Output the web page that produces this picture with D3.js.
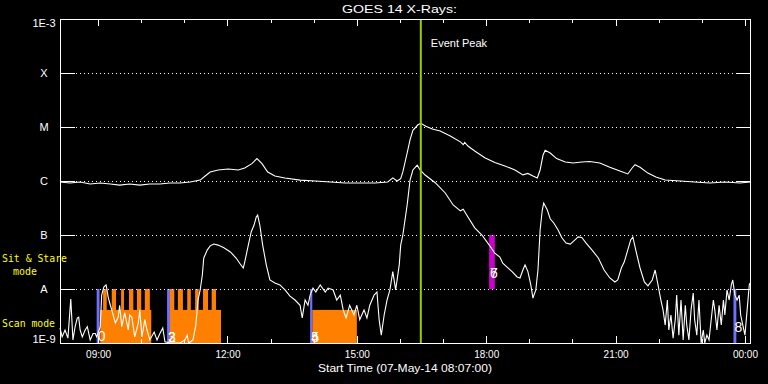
<!DOCTYPE html>
<html>
<head>
<meta charset="utf-8">
<title>GOES 14 X-Rays</title>
<style>
  body { margin: 0; background: #000; }
  svg { display: block; background: #000; }
  text { font-family: "Liberation Sans", Arial, sans-serif; fill: #fff; }
</style>
</head>
<body>
<script src="https://cdn.jsdelivr.net/npm/d3@7"></script>
<script>
// start of the plot; all times below are minutes after it
var startTime = "2014-05-07T08:07:00Z";
var spanMinutes = 960;

// long channel (1-8 A), W/m^2
var longMinutes = [0,14,28,42,56,70,83,97,111,125,139,153,167,181,195,202,209,220,234,248,
  257,267,274,281,289,299,313,334,355,376,397,417,438,456,463,469,474,477,483,487,
  491,498,502,509,518,529,543,557,561,563,568,577,591,605,619,633,644,651,658,664,
  668,672,675,682,691,703,714,726,737,751,765,779,790,796,800,807,818,829,842,863,
  883,904,925,946,960];
var longFlux = [0.96e-6,0.92e-6,0.96e-6,0.88e-6,0.92e-6,0.88e-6,0.84e-6,0.88e-6,0.84e-6,0.88e-6,
  0.88e-6,0.92e-6,0.92e-6,0.96e-6,1.04e-6,1.24e-6,1.47e-6,1.6e-6,1.67e-6,1.6e-6,
  1.74e-6,2.1e-6,2.6e-6,2.1e-6,1.47e-6,1.24e-6,1.14e-6,1.04e-6,1.0e-6,0.96e-6,
  0.92e-6,0.92e-6,0.92e-6,0.96e-6,1.14e-6,1.0e-6,1.1e-6,1.47e-6,3.3e-6,5.8e-6,
  8.7e-6,1.1e-5,1.17e-5,1.03e-5,0.92e-5,0.84e-5,0.68e-5,0.53e-5,0.47e-5,0.52e-5,
  0.44e-5,0.36e-5,0.27e-5,0.22e-5,0.19e-5,0.16e-5,1.3e-6,1.38e-6,1.24e-6,1.14e-6,
  1.6e-6,3.0e-6,3.7e-6,3.3e-6,2.6e-6,2.25e-6,2.15e-6,2.25e-6,2.3e-6,2.15e-6,
  1.8e-6,1.53e-6,1.35e-6,1.74e-6,2.0e-6,1.8e-6,1.4e-6,1.19e-6,1.04e-6,1.0e-6,
  0.96e-6,0.92e-6,0.96e-6,0.92e-6,0.96e-6];

// short channel (0.5-4 A), W/m^2
var shortMinutes = [0,3,7,11,15,18,21,24,26,28,31,35,38,42,46,49,51,56,58,61,
  64,65,67,70,72,77,81,83,86,90,95,97,100,104,109,111,114,118,121,125,
  131,135,139,143,146,153,167,174,177,179,185,189,192,195,198,200,205,209,214,220,
  228,237,245,250,255,257,262,266,270,273,275,278,282,287,292,299,306,313,320,327,
  334,337,341,345,348,352,356,362,369,373,380,385,390,394,398,403,409,413,417,423,
  427,431,437,441,444,447,451,455,459,463,467,472,474,477,480,483,487,491,497,501,
  508,522,536,547,557,561,565,577,587,598,605,612,616,622,629,636,640,644,647,651,
  655,658,662,665,668,671,673,678,682,687,693,698,704,710,715,721,726,732,740,749,
  757,765,772,776,781,785,790,794,797,801,807,813,818,824,828,832,836,839,842,845,
  847,850,853,856,858,861,864,867,870,872,875,878,881,883,886,889,892,895,897,900,
  903,906,909,911,914,917,920,923,925,928,931,934,936,939,942,945,947,950,953,956,
  959,960];
var shortFlux = [1.9e-9,1.3e-9,1.74e-9,1.23e-9,6.5e-9,1.14e-9,2.0e-9,2.9e-9,3.0e-9,1.74e-9,
  1.3e-9,1.74e-9,2.0e-9,1.14e-9,1.5e-9,1.5e-9,1.3e-9,2.0e-9,7.7e-9,1.09e-8,
  1.19e-8,1.04e-8,7.1e-9,5.0e-9,4.1e-9,2.35e-9,3.0e-9,5.0e-9,2.0e-9,3.6e-9,
  1.74e-9,3.3e-9,3.0e-9,1.3e-9,2.35e-9,4.1e-9,1.3e-9,2.7e-9,1.74e-9,1.14e-9,
  1.6e-9,1.14e-9,1.5e-9,1.9e-9,1.05e-9,0.9e-9,0.88e-9,1.14e-9,1.4e-9,0.9e-9,
  1.14e-9,2.15e-9,6.25e-9,9.6e-9,1.8e-8,3.75e-8,5.3e-8,6.3e-8,6.8e-8,6.5e-8,
  5.8e-8,4.85e-8,3.75e-8,3.0e-8,2.45e-8,3.15e-8,6.5e-8,1.14e-7,1.53e-7,2.15e-7,
  2.34e-7,1.53e-7,6.5e-8,2.8e-8,1.47e-8,1.29e-8,1.19e-8,9.6e-9,7.4e-9,6.25e-9,
  5.0e-9,2.9e-9,6.25e-9,5.0e-9,7.7e-9,1.04e-8,8.8e-9,1.19e-8,8.8e-9,1.04e-8,
  9.6e-9,6.25e-9,7.7e-9,4.1e-9,2.9e-9,5.0e-9,3.3e-9,5.0e-9,2.7e-9,4.1e-9,
  2.9e-9,5.0e-9,7.7e-9,8.8e-9,2.7e-9,1.4e-9,3.3e-9,6.25e-9,9.6e-9,2.1e-8,
  9.6e-9,2.8e-8,6.5e-8,1.0e-7,1.9e-7,3.6e-7,1.04e-6,1.6e-6,1.97e-6,1.6e-6,
  1.29e-6,0.93e-6,0.6e-6,3.6e-7,2.8e-7,3.0e-7,2.45e-7,1.36e-7,1.0e-7,6.3e-8,
  4.6e-8,3.9e-8,3.0e-8,2.55e-8,2.1e-8,1.67e-8,1.6e-8,2.25e-8,2.8e-8,2.1e-8,
  1.19e-8,6.8e-9,9.6e-9,2.25e-8,1.24e-7,2.9e-7,3.9e-7,2.9e-7,2.0e-7,1.67e-7,
  1.24e-7,9.0e-8,7.1e-8,6.8e-8,7.8e-8,9.2e-8,9.0e-8,7.1e-8,5.3e-8,3.75e-8,
  2.25e-8,1.6e-8,1.35e-8,1.47e-8,2.45e-8,3.15e-8,5.3e-8,8.1e-8,9.2e-8,5.3e-8,
  2.45e-8,1.35e-8,1.14e-8,1.47e-8,2.25e-8,1.19e-8,6.25e-9,4.1e-9,2.15e-9,6.25e-9,
  1.74e-9,3.3e-9,1.23e-9,2.7e-9,7.7e-9,1.4e-9,6.25e-9,1.14e-9,5.0e-9,2.15e-9,
  1.14e-9,4.1e-9,8.4e-9,2.7e-9,1.4e-9,6.25e-9,1.0e-9,1.74e-9,1.0e-9,1.4e-9,
  1.14e-9,2.7e-9,6.25e-9,4.1e-9,1.74e-9,5.0e-9,2.15e-9,6.25e-9,3.3e-9,9.6e-9,
  6.25e-9,1.19e-8,1.47e-8,7.7e-9,6.25e-9,7.7e-9,3.3e-9,2.15e-9,1.4e-9,4.1e-9,
  1.19e-8,1.29e-8];

// flare class levels
var levelNames = ["1E-9", "A", "B", "C", "M", "X", "1E-3"];
var levelValues = [1e-9, 1e-8, 1e-7, 1e-6, 1e-5, 1e-4, 1e-3];

// observing mode blocks
var scanStart = [56, 153, 351];
var scanEnd = [127, 224, 413];
var stareStart = [60, 72, 85, 96, 107, 118, 153, 164, 177, 188, 199, 211];
var stareEnd = [65, 78, 89, 102, 113, 125, 159, 171, 182, 193, 206, 217];
var scanLevel = 4.1e-9;
var stareLevel = 1e-8;

// numbered event markers
var markerStart = [51, 149, 348, 597, 937];
var markerEnd = [55, 153, 351, 605, 941];
var markerLow = [1e-9, 1e-9, 1e-9, 1e-8, 1e-9];
var markerHigh = [1e-8, 1e-8, 1e-8, 1e-7, 1e-8];
var markerColor = ["#7070ff", "#7070ff", "#7070ff", "#cc00cc", "#7070ff"];
var markerLabels = [["0"], ["2", "3"], ["4", "5"], ["6", "7"], ["8"]];
var markerLabelFlux = [1.1e-9, 1.05e-9, 1.05e-9, 1.6e-8, 1.6e-9];

var peakMinutes = 502;

// ---------------------------------------------------------------
var margin = {top: 19, right: 18, bottom: 41, left: 60};
var width = 768 - margin.left - margin.right;
var height = 384 - margin.top - margin.bottom;

var t0 = new Date(startTime);
function toDate(m) { return new Date(t0.getTime() + m * 60000); }

var x = d3.scaleUtc().domain([t0, toDate(spanMinutes)]).range([0, width]);
var y = d3.scaleLog().domain([1e-9, 1e-3]).range([height, 0]).clamp(true);

var svg = d3.select("body").append("svg")
    .attr("width", 768)
    .attr("height", 384);

var g = svg.append("g")
    .attr("transform", "translate(" + margin.left + "," + margin.top + ")");

// title
svg.append("text")
    .attr("x", 342).attr("y", 13)
    .attr("font-size", 11)
    .attr("textLength", 115).attr("lengthAdjust", "spacingAndGlyphs")
    .text("GOES 14 X-Rays:");

// mode labels
var yellow = "#ffff00";
var monoFont = "'DejaVu Sans Mono', 'Liberation Mono', monospace";
svg.append("text").attr("x", 2).attr("y", 262).attr("font-size", 11)
    .attr("font-family", monoFont)
    .attr("textLength", 65).attr("lengthAdjust", "spacingAndGlyphs")
    .style("font-family", monoFont)
    .style("fill", yellow).text("Sit & Stare");
svg.append("text").attr("x", 13).attr("y", 275).attr("font-size", 11)
    .attr("textLength", 24).attr("lengthAdjust", "spacingAndGlyphs")
    .style("font-family", monoFont)
    .style("fill", yellow).text("mode");
svg.append("text").attr("x", 2).attr("y", 327).attr("font-size", 11)
    .attr("textLength", 53).attr("lengthAdjust", "spacingAndGlyphs")
    .style("font-family", monoFont)
    .style("fill", yellow).text("Scan mode");

// scan / stare blocks
g.append("g").selectAll("rect")
    .data(d3.range(scanStart.length))
    .enter().append("rect")
    .attr("x", function(i) { return x(toDate(scanStart[i])); })
    .attr("width", function(i) { return x(toDate(scanEnd[i])) - x(toDate(scanStart[i])); })
    .attr("y", y(scanLevel))
    .attr("height", height - y(scanLevel))
    .attr("fill", "#ff8000");

g.append("g").selectAll("rect")
    .data(d3.range(stareStart.length))
    .enter().append("rect")
    .attr("x", function(i) { return x(toDate(stareStart[i])); })
    .attr("width", function(i) { return x(toDate(stareEnd[i])) - x(toDate(stareStart[i])); })
    .attr("y", y(stareLevel))
    .attr("height", height - y(stareLevel))
    .attr("fill", "#ff8000");

// event markers
g.append("g").selectAll("rect")
    .data(d3.range(markerStart.length))
    .enter().append("rect")
    .attr("x", function(i) { return x(toDate(markerStart[i])); })
    .attr("width", function(i) { return x(toDate(markerEnd[i])) - x(toDate(markerStart[i])); })
    .attr("y", function(i) { return y(markerHigh[i]); })
    .attr("height", function(i) { return y(markerLow[i]) - y(markerHigh[i]); })
    .attr("fill", function(i) { return markerColor[i]; });

// grid lines (dotted) and ticks on both sides
var inner = levelValues.slice(1, -1);
g.append("g").selectAll("line")
    .data(inner)
    .enter().append("line")
    .attr("x1", 15).attr("x2", width - 14)
    .attr("y1", function(d) { return Math.round(y(d)) + 0.5; })
    .attr("y2", function(d) { return Math.round(y(d)) + 0.5; })
    .attr("stroke", "#fff")
    .attr("stroke-dasharray", "1,3")
    .attr("stroke-dashoffset", -1)
    .attr("shape-rendering", "crispEdges");

g.append("g").selectAll("line")
    .data(inner)
    .enter().append("line")
    .attr("x1", 0).attr("x2", 15)
    .attr("y1", function(d) { return Math.round(y(d)) + 0.5; })
    .attr("y2", function(d) { return Math.round(y(d)) + 0.5; })
    .attr("stroke", "#fff").attr("shape-rendering", "crispEdges");

g.append("g").selectAll("line")
    .data(inner)
    .enter().append("line")
    .attr("x1", width - 14).attr("x2", width)
    .attr("y1", function(d) { return Math.round(y(d)) + 0.5; })
    .attr("y2", function(d) { return Math.round(y(d)) + 0.5; })
    .attr("stroke", "#fff").attr("shape-rendering", "crispEdges");

// y labels
g.append("g").selectAll("text")
    .data(levelValues)
    .enter().append("text")
    .attr("x", -16)
    .attr("y", function(d, i) {
        if (i === 0) return y(d);
        if (i === levelValues.length - 1) return y(d) + 8;
        return y(d) + 4;
    })
    .attr("text-anchor", "middle")
    .attr("font-size", 11)
    .text(function(d, i) { return levelNames[i]; });

// data curves
var longLine = d3.line()
    .x(function(i) { return x(toDate(longMinutes[i])); })
    .y(function(i) { return y(longFlux[i]); });
var shortLine = d3.line()
    .x(function(i) { return x(toDate(shortMinutes[i])); })
    .y(function(i) { return y(shortFlux[i]); });

g.append("path")
    .attr("d", longLine(d3.range(longMinutes.length)))
    .attr("fill", "none").attr("stroke", "#fff").attr("stroke-width", 1.1);
g.append("path")
    .attr("d", shortLine(d3.range(shortMinutes.length)))
    .attr("fill", "none").attr("stroke", "#fff").attr("stroke-width", 1.1);

// marker numbers
markerLabels.forEach(function(labels, i) {
    labels.forEach(function(s) {
        g.append("text")
            .attr("x", x(toDate(markerStart[i])) + 1)
            .attr("y", y(markerLabelFlux[i]))
            .attr("font-size", 14)
            .text(s);
    });
});

// event peak
var px = x(toDate(peakMinutes));
g.append("line")
    .attr("x1", px).attr("x2", px)
    .attr("y1", 0).attr("y2", height)
    .attr("stroke", "#99cc00").attr("stroke-width", 2);
g.append("text")
    .attr("x", px + 10).attr("y", 28)
    .attr("font-size", 11)
    .text("Event Peak");

// time axes
function noDomain(sel) { sel.select(".domain").remove(); }

var bottomMajor = d3.axisBottom(x)
    .ticks(d3.utcHour.every(3))
    .tickFormat(d3.utcFormat("%H:%M"))
    .tickSizeInner(-7).tickSizeOuter(0).tickPadding(8);
var bottomMinor = d3.axisBottom(x)
    .ticks(d3.utcHour.every(1)).tickFormat("")
    .tickSizeInner(-4).tickSizeOuter(0);
var topMajor = d3.axisTop(x)
    .ticks(d3.utcHour.every(3)).tickFormat("")
    .tickSizeInner(-7).tickSizeOuter(0);
var topMinor = d3.axisTop(x)
    .ticks(d3.utcHour.every(1)).tickFormat("")
    .tickSizeInner(-4).tickSizeOuter(0);

[bottomMinor, bottomMajor].forEach(function(ax) {
    g.append("g")
        .attr("transform", "translate(0," + height + ")")
        .style("color", "#fff")
        .attr("font-family", null).attr("font-size", 11)
        .call(ax).call(noDomain);
});
[topMinor, topMajor].forEach(function(ax) {
    g.append("g")
        .style("color", "#fff")
        .call(ax).call(noDomain);
});
g.selectAll(".tick line").attr("shape-rendering", "crispEdges");

// frame
g.append("rect")
    .attr("x", 0.5).attr("y", 0.5)
    .attr("width", width).attr("height", height)
    .attr("fill", "none").attr("stroke", "#fff")
    .attr("shape-rendering", "crispEdges");

// x axis title
svg.append("text")
    .attr("x", margin.left + width / 2).attr("y", 372)
    .attr("text-anchor", "middle")
    .attr("font-size", 11)
    .attr("textLength", 174).attr("lengthAdjust", "spacingAndGlyphs")
    .text("Start Time (07-May-14 08:07:00)");
</script>
</body>
</html>
